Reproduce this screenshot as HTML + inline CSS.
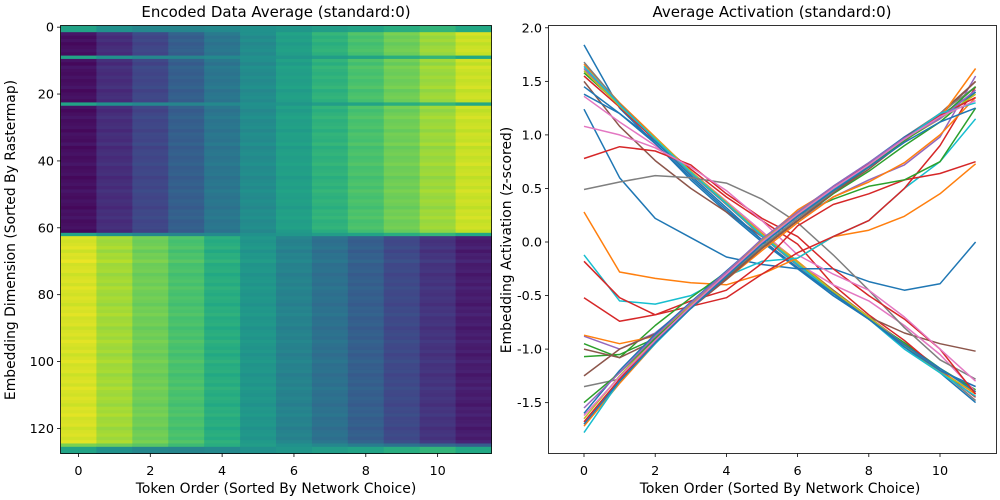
<!DOCTYPE html>
<html><head><meta charset="utf-8"><style>
html,body{margin:0;padding:0;background:#fff;}
svg{display:block;font-family:"DejaVu Sans","Liberation Sans",sans-serif;}
</style></head><body>
<svg id="fig" width="1000" height="500" viewBox="0 0 1000 500" xmlns="http://www.w3.org/2000/svg">
<rect width="1000" height="500" fill="#fff"/>
<g id="heat"></g>
<rect x="60.5" y="25.5" width="431" height="428" fill="none" stroke="#000" stroke-width="0.8"/>
<g id="heatAxes"></g>
<text x="276" y="17" font-size="15" text-anchor="middle">Encoded Data Average (standard:0)</text>
<text x="276" y="493" font-size="13.9" text-anchor="middle">Token Order (Sorted By Network Choice)</text>
<text transform="translate(15,240) rotate(-90)" font-size="13.9" text-anchor="middle">Embedding Dimension (Sorted By Rastermap)</text>
<g id="lines"></g>
<rect x="548.5" y="25.5" width="448" height="428" fill="none" stroke="#000" stroke-width="0.8"/>
<g id="lineAxes"></g>
<text x="772" y="17" font-size="15" text-anchor="middle">Average Activation (standard:0)</text>
<text x="780" y="493" font-size="13.9" text-anchor="middle">Token Order (Sorted By Network Choice)</text>
<text transform="translate(511,240) rotate(-90)" font-size="13.9" text-anchor="middle">Embedding Activation (z-scored)</text>
</svg>
<script>
// ---- heatmap data ----
const upProfile = [0.04,0.13,0.21,0.3,0.39,0.48,0.56,0.64,0.71,0.78,0.85,0.92];
const downProfile = [0.94,0.86,0.78,0.71,0.62,0.52,0.44,0.37,0.3,0.22,0.15,0.08];
const midProfile = [0.58,0.5,0.46,0.45,0.47,0.5,0.52,0.55,0.58,0.62,0.65,0.6];
const lowProfile = [0.8,0.78,0.74,0.68,0.62,0.55,0.5,0.46,0.42,0.38,0.34,0.3];
const midRows = [0,1,9,23,62,126,127];
const lowRows = [125];
const upGroupEnd = 62;
const rowJitter = [0,0,0.02,-0.01,0.01,-0.02,0,0.01,-0.01,0,0.01,-0.02,0.02,0,-0.01,0.01,-0.01,0,0.02,-0.02,0,0.01,-0.01,0,0.01,-0.02,0,0.02,-0.01,0,0.01,-0.02,0.01,0,-0.01,0.02,-0.02,0,0.01,-0.01,0,0.02,-0.01,0,0.01,-0.02,0,0.01,-0.01,0.02,0,-0.01,0.01,0,-0.02,0.01,0,0.02,-0.01,0,0.01,-0.02,0,0.01,-0.01,0,0.02,-0.02,0.01,0,0.03,-0.01,0,0.01,-0.02,0,0.01,-0.01,0.02,0,-0.01,0.01,0,-0.02,0.01,0,0.02,-0.01,0,0.01,-0.02,0,0.01,-0.01,0.02,0,-0.01,0.01,-0.02,0,0.02,-0.01,0,0.01,-0.02,0,0.01,-0.01,0.02,0,-0.01,0.01,0,-0.02,0.01,0,0.02,-0.01,0,0.01,-0.02,0,0.01,-0.01,0.02,0,0,0];
const heatXTicks = [0,2,4,6,8,10];
const heatYTicks = [0,20,40,60,80,100,120];

const viridis = [[68,1,84],[72,36,117],[65,68,135],[53,95,141],[42,120,142],[33,145,140],[34,168,132],[68,191,112],[122,209,81],[189,223,38],[253,231,37]];
function cmap(t){t=Math.max(0,Math.min(1,t));const p=t*10,i=Math.min(9,Math.floor(p)),f=p-i;const a=viridis[i],b=viridis[i+1];return `rgb(${a.map((v,k)=>Math.round(v+(b[k]-v)*f)).join(',')})`;}
const NS="http://www.w3.org/2000/svg";
function mk(tag,attrs,parent){const e=document.createElementNS(NS,tag);for(const k in attrs)e.setAttribute(k,attrs[k]);parent.appendChild(e);return e;}
const hx = c => 60.5 + (c+0.5)*(431/12);
const hy = r => 25.5 + (r+0.5)*(428/128);
const cw = 431/12, rh = 428/128;
const heat=document.getElementById('heat');
for(let r=0;r<128;r++){
  let prof;
  if(midRows.includes(r)) prof=midProfile;
  else if(lowRows.includes(r)) prof=lowProfile;
  else prof = r<upGroupEnd ? upProfile : downProfile;
  for(let c=0;c<12;c++){
    const rc=mk('rect',{x:(hx(c)-cw/2).toFixed(2),y:(hy(r)-rh/2).toFixed(2),width:(cw+0.4).toFixed(2),height:(rh+0.4).toFixed(2),fill:cmap(prof[c]+rowJitter[r])},heat);
    
    
  }
}
const ha=document.getElementById('heatAxes');
heatXTicks.forEach(v=>{
  mk('line',{x1:hx(v),x2:hx(v),y1:453.5,y2:457,stroke:'#000','stroke-width':0.8},ha);
  const t=mk('text',{x:hx(v),y:475,'font-size':12.8,'text-anchor':'middle'},ha);t.textContent=v;
  
  
});
heatYTicks.forEach(v=>{
  mk('line',{x1:57,x2:60.5,y1:hy(v),y2:hy(v),stroke:'#000','stroke-width':0.8},ha);
  const t=mk('text',{x:54,y:hy(v)+4.5,'font-size':12.8,'text-anchor':'end'},ha);t.textContent=v;
  
  
});

// ---- line chart data ----
const tokens=[0,1,2,3,4,5,6,7,8,9,10,11];
const lineXTicks=[0,2,4,6,8,10];
const lineYTicks=[2.0,1.5,1.0,0.5,0.0,-0.5,-1.0,-1.5];
const s01=[1.84,1.25,0.92,0.58,0.28,0.0,-0.25,-0.5,-0.72,-0.98,-1.22,-1.5];
const s02=[1.66,1.3,0.98,0.66,0.38,0.08,-0.18,-0.45,-0.7,-0.95,-1.2,-1.42];
const s03=[1.58,1.28,0.96,0.64,0.36,0.06,-0.2,-0.47,-0.72,-0.94,-1.18,-1.38];
const s04=[1.55,1.26,0.95,0.68,0.42,0.2,-0.02,-0.4,-0.68,-0.92,-1.2,-1.45];
const s05=[1.62,1.27,0.97,0.65,0.37,0.07,-0.19,-0.46,-0.7,-0.96,-1.2,-1.35];
const s06=[1.5,1.08,0.76,0.5,0.28,0.05,-0.2,-0.45,-0.7,-0.85,-0.95,-1.02];
const s07=[1.36,1.12,0.9,0.66,0.38,0.1,-0.2,-0.4,-0.55,-0.78,-1.05,-1.4];
const s08=[1.68,1.29,0.96,0.64,0.35,0.05,-0.22,-0.48,-0.7,-0.96,-1.2,-1.48];
const s09=[1.6,1.27,0.97,0.66,0.37,0.07,-0.19,-0.46,-0.7,-0.97,-1.22,-1.4];
const s10=[1.64,1.28,0.96,0.65,0.36,0.06,-0.21,-0.48,-0.72,-1.0,-1.22,-1.44];
const s11=[1.45,1.2,0.94,0.62,0.32,0.02,-0.24,-0.5,-0.72,-0.98,-1.2,-1.35];
const s12=[1.38,1.2,0.92,0.6,0.3,0.02,-0.24,-0.48,-0.72,-0.96,-1.18,-1.4];
const s13=[1.24,0.6,0.22,0.04,-0.14,-0.21,-0.25,-0.25,-0.37,-0.45,-0.39,0.0];
const s14=[0.49,0.56,0.62,0.6,0.55,0.4,0.18,-0.12,-0.45,-0.8,-1.1,-1.28];
const s15=[0.28,-0.28,-0.34,-0.38,-0.4,-0.3,-0.15,0.05,0.11,0.24,0.45,0.73];
const s16=[0.78,0.89,0.85,0.72,0.45,0.22,0.05,-0.25,-0.5,-0.72,-1.0,-1.42];
const s17=[1.08,1.0,0.88,0.7,0.48,0.2,-0.12,-0.3,-0.45,-0.7,-1.0,-1.3];
const s18=[-0.12,-0.55,-0.58,-0.5,-0.32,-0.18,-0.15,0.05,0.2,0.5,0.75,1.15];
const s19=[-0.52,-0.74,-0.68,-0.6,-0.52,-0.3,-0.1,0.05,0.2,0.5,0.9,1.45];
const s20=[-0.18,-0.52,-0.68,-0.55,-0.45,-0.2,0.15,0.35,0.45,0.58,0.64,0.75];
const s21=[-0.95,-1.08,-0.78,-0.52,-0.28,0.0,0.25,0.4,0.52,0.58,0.75,1.25];
const s22=[-0.88,-1.0,-0.85,-0.58,-0.32,-0.04,0.2,0.42,0.58,0.72,0.98,1.55];
const s23=[-0.87,-0.95,-0.88,-0.6,-0.35,-0.08,0.18,0.42,0.56,0.74,1.0,1.35];
const s24=[-1.07,-1.05,-0.9,-0.6,-0.33,-0.05,0.2,0.45,0.66,0.9,1.12,1.4];
const s25=[-1.0,-1.08,-0.92,-0.62,-0.34,-0.06,0.2,0.46,0.68,0.94,1.18,1.5];
const s26=[-1.25,-1.0,-0.86,-0.62,-0.35,-0.06,0.2,0.46,0.7,0.96,1.2,1.5];
const s27=[-1.35,-1.28,-0.92,-0.6,-0.32,-0.04,0.22,0.47,0.72,0.98,1.2,1.45];
const s28=[-1.6,-1.2,-0.86,-0.56,-0.27,0.02,0.28,0.52,0.74,0.98,1.18,1.4];
const s29=[-1.72,-1.32,-0.95,-0.6,-0.3,0.01,0.3,0.5,0.72,0.96,1.16,1.62];
const s30=[-1.65,-1.25,-0.9,-0.58,-0.28,0.02,0.27,0.5,0.72,0.95,1.15,1.38];
const s31=[-1.5,-1.22,-0.9,-0.6,-0.3,-0.02,0.25,0.48,0.7,0.95,1.16,1.45];
const s32=[-1.68,-1.28,-0.92,-0.6,-0.3,0.0,0.26,0.5,0.73,0.97,1.18,1.35];
const s33=[-1.78,-1.3,-0.95,-0.62,-0.32,-0.01,0.24,0.49,0.72,0.96,1.2,1.3];
const s34=[-1.55,-1.22,-0.88,-0.57,-0.28,0.03,0.28,0.52,0.74,0.97,1.15,1.42];
const s35=[-1.62,-1.26,-0.92,-0.6,-0.3,0.0,0.26,0.5,0.72,0.96,1.17,1.32];
const s36=[-1.7,-1.3,-0.94,-0.62,-0.32,-0.02,0.24,0.48,0.7,0.93,1.12,1.25];
const series=[s01,s02,s03,s04,s05,s06,s07,s08,s09,s10,s11,s12,s13,s14,s15,s16,s17,s18,s19,s20,s21,s22,s23,s24,s25,s26,s27,s28,s29,s30,s31,s32,s33,s34,s35,s36];
const seriesColors=['#1f77b4','#ff7f0e','#2ca02c','#d62728','#9467bd','#8c564b','#e377c2','#7f7f7f','#bcbd22','#17becf','#1f77b4','#1f77b4','#1f77b4','#7f7f7f','#ff7f0e','#d62728','#e377c2','#17becf','#d62728','#d62728','#2ca02c','#9467bd','#ff7f0e','#2ca02c','#8c564b','#8c564b','#7f7f7f','#1f77b4','#ff7f0e','#bcbd22','#2ca02c','#d62728','#17becf','#9467bd','#e377c2','#1f77b4'];

const lx = v => 584 + v*35.6;
const ly = v => 242 - v*107.1;
const lg=document.getElementById('lines');
series.forEach((s,i)=>{
  const p=mk('polyline',{points:s.map((v,j)=>lx(tokens[j]).toFixed(1)+','+ly(v).toFixed(1)).join(' '),fill:'none',stroke:seriesColors[i],'stroke-width':1.5,'stroke-linejoin':'round'},lg);
  
  
});
const la=document.getElementById('lineAxes');
lineXTicks.forEach(v=>{
  mk('line',{x1:lx(v),x2:lx(v),y1:453.5,y2:457,stroke:'#000','stroke-width':0.8},la);
  const t=mk('text',{x:lx(v),y:475,'font-size':12.8,'text-anchor':'middle'},la);t.textContent=v;
  
  
});
lineYTicks.forEach(v=>{
  mk('line',{x1:545,x2:548.5,y1:ly(v),y2:ly(v),stroke:'#000','stroke-width':0.8},la);
  const t=mk('text',{x:542,y:ly(v)+4.5,'font-size':12.8,'text-anchor':'end'},la);t.textContent=v.toFixed(1);
  
  
});
</script>
</body></html>
